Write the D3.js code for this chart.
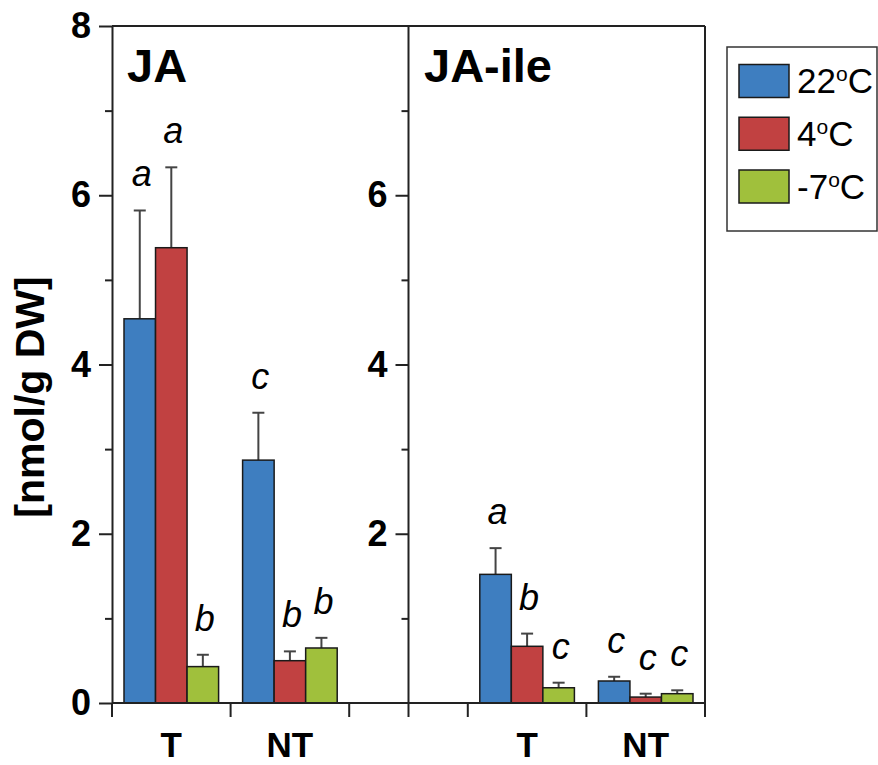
<!DOCTYPE html>
<html>
<head>
<meta charset="utf-8">
<script src="https://cdn.jsdelivr.net/npm/d3@7/dist/d3.min.js"></script>
<style>
  body { margin: 0; background: #fff; }
  svg { display: block; font-family: "Liberation Sans", Arial, sans-serif; }
</style>
</head>
<body>
<svg id="chart"></svg>
<script>
// data
var panels = ["JA", "JA-ile"];
var sites = ["T", "NT"];
var temps = ["22", "4", "-7"];
// order: JA-T, JA-NT, JA-ile-T, JA-ile-NT
var mean22 = [4.54, 2.87, 1.52, 0.26];
var mean4  = [5.38, 0.50, 0.67, 0.07];
var meanM7 = [0.43, 0.65, 0.18, 0.11];
var err22 = [1.28, 0.56, 0.31, 0.05];
var err4  = [0.95, 0.11, 0.15, 0.04];
var errM7 = [0.14, 0.12, 0.06, 0.04];
var letters22 = ["a", "c", "a", "c"];
var letters4  = ["a", "b", "b", "c"];
var lettersM7 = ["b", "b", "c", "c"];
var yMajor = [0, 2, 4, 6, 8];
var yMinor = [1, 3, 5, 7];

var w = 878, h = 765;
var colors = ["#3e7ec0", "#c14141", "#a0c03c"];
var lineColor = "#222";
var font = "\"Liberation Sans\", Arial, sans-serif";

var svg = d3.select("#chart").attr("width", w).attr("height", h);

// slots: two groups per panel with an empty slot holding the divider
var slots = ["JA|T", "JA|NT", "gap", "JA-ile|T", "JA-ile|NT"];
var x = d3.scaleBand().domain(slots).range([112, 705]).padding(0);
var xSub = d3.scaleBand().domain(temps).range([12, x.bandwidth() - 12]).padding(0);
var y = d3.scaleLinear().domain([0, 8]).range([703, 26]);
var dividerX = x("gap") + x.bandwidth() / 2;

// rows of bars
var means = [mean22, mean4, meanM7];
var errs = [err22, err4, errM7];
var letters = [letters22, letters4, lettersM7];
var rows = [];
panels.forEach(function(p, pi) {
  sites.forEach(function(s, si) {
    var k = pi * 2 + si;
    temps.forEach(function(t, ti) {
      rows.push({ slot: p + "|" + s, temp: t, ti: ti,
                  v: means[ti][k], e: errs[ti][k], lab: letters[ti][k] });
    });
  });
});

// error bars (drawn under bars so bar outline sits on top)
var eb = svg.append("g").attr("stroke", "#444").attr("stroke-width", 2);
rows.forEach(function(d) {
  var cx = x(d.slot) + xSub(d.temp) + xSub.bandwidth() / 2;
  eb.append("line").attr("x1", cx).attr("x2", cx)
    .attr("y1", y(d.v)).attr("y2", y(d.v + d.e));
  eb.append("line").attr("x1", cx - 6).attr("x2", cx + 6)
    .attr("y1", y(d.v + d.e)).attr("y2", y(d.v + d.e));
});

svg.append("g").selectAll("rect").data(rows).join("rect")
  .attr("x", function(d) { return x(d.slot) + xSub(d.temp); })
  .attr("width", xSub.bandwidth())
  .attr("y", function(d) { return y(d.v); })
  .attr("height", function(d) { return y(0) - y(d.v); })
  .attr("fill", function(d) { return colors[d.ti]; })
  .attr("stroke", "#1a1a1a")
  .attr("stroke-width", 1.5);

// significance letters
svg.append("g").selectAll("text").data(rows).join("text")
  .attr("x", function(d) { return x(d.slot) + xSub(d.temp) + xSub.bandwidth() / 2 + 2; })
  .attr("y", function(d) { return y(d.v + d.e) - 24; })
  .attr("text-anchor", "middle")
  .attr("font-style", "italic")
  .attr("font-size", 36)
  .text(function(d) { return d.lab; });

// frame
var frame = svg.append("g").attr("stroke", lineColor).attr("stroke-width", 2);
frame.append("line").attr("x1", 112).attr("x2", 705).attr("y1", y(8)).attr("y2", y(8));
frame.append("line").attr("x1", 705).attr("x2", 705).attr("y1", y(8)).attr("y2", y(0));
frame.append("line").attr("x1", dividerX).attr("x2", dividerX).attr("y1", y(8)).attr("y2", y(0));

function styleAxis(g) {
  g.selectAll("path, line").attr("stroke", lineColor).attr("stroke-width", 2);
  g.selectAll("text").attr("font-family", font).attr("font-weight", "bold")
    .attr("font-size", 36).attr("fill", "#000");
}

// left y axis
svg.append("g").attr("transform", "translate(112,0)")
  .call(d3.axisLeft(y).tickValues(yMajor).tickSize(13).tickSizeOuter(0).tickPadding(8).tickFormat(d3.format("d")))
  .call(styleAxis);
svg.append("g").attr("transform", "translate(112,0)")
  .call(d3.axisLeft(y).tickValues(yMinor).tickSize(7).tickFormat(""))
  .call(function(g) { g.select(".domain").remove(); })
  .call(styleAxis);

// divider axis (second panel)
svg.append("g").attr("transform", "translate(" + dividerX + ",0)")
  .call(d3.axisLeft(y).tickValues([2, 4, 6]).tickSize(13).tickPadding(8).tickFormat(d3.format("d")))
  .call(function(g) { g.select(".domain").remove(); })
  .call(styleAxis);
svg.append("g").attr("transform", "translate(" + dividerX + ",0)")
  .call(d3.axisLeft(y).tickValues(yMinor).tickSize(7).tickFormat(""))
  .call(function(g) { g.select(".domain").remove(); })
  .call(styleAxis);

// bottom axis
var xg = svg.append("g").attr("stroke", lineColor).attr("stroke-width", 2);
xg.append("line").attr("x1", 112).attr("x2", 705).attr("y1", y(0)).attr("y2", y(0));
var xTicks = slots.map(function(s) { return x(s); }).concat([705, dividerX]);
xg.selectAll("line.tk").data(xTicks).join("line").attr("class", "tk")
  .attr("x1", function(d) { return d; }).attr("x2", function(d) { return d; })
  .attr("y1", y(0)).attr("y2", y(0) + 14);

svg.append("g").selectAll("text")
  .data(slots.filter(function(s) { return s !== "gap"; }))
  .join("text")
  .attr("x", function(s) { return x(s) + x.bandwidth() / 2; })
  .attr("y", 757)
  .attr("text-anchor", "middle")
  .attr("font-weight", "bold")
  .attr("font-size", 35)
  .text(function(s) { return s.split("|")[1]; });

// panel titles
svg.append("text").attr("x", 127).attr("y", 82)
  .attr("font-weight", "bold").attr("font-size", 47).text(panels[0]);
svg.append("text").attr("x", 424).attr("y", 82)
  .attr("font-weight", "bold").attr("font-size", 47).text(panels[1]);

// y label
svg.append("text")
  .attr("transform", "translate(44,397) rotate(-90)")
  .attr("text-anchor", "middle")
  .attr("font-weight", "bold")
  .attr("font-size", 41)
  .text("[nmol/g DW]");

// legend
var lg = svg.append("g");
lg.append("rect").attr("x", 727).attr("y", 47).attr("width", 150).attr("height", 184)
  .attr("fill", "#fff").attr("stroke", "#333").attr("stroke-width", 1.5);
temps.forEach(function(t, i) {
  var cy = 81 + i * 52.75;
  lg.append("rect").attr("x", 739).attr("y", cy - 16.5).attr("width", 50).attr("height", 33)
    .attr("fill", colors[i]).attr("stroke", "#1a1a1a").attr("stroke-width", 1.5);
  var tx = lg.append("text").attr("x", 797).attr("y", cy + 12).attr("font-size", 35);
  tx.append("tspan").text(t);
  tx.append("tspan").attr("font-size", 21).attr("dy", -12).text("o");
  tx.append("tspan").attr("dy", 12).text("C");
});
</script>
</body>
</html>
